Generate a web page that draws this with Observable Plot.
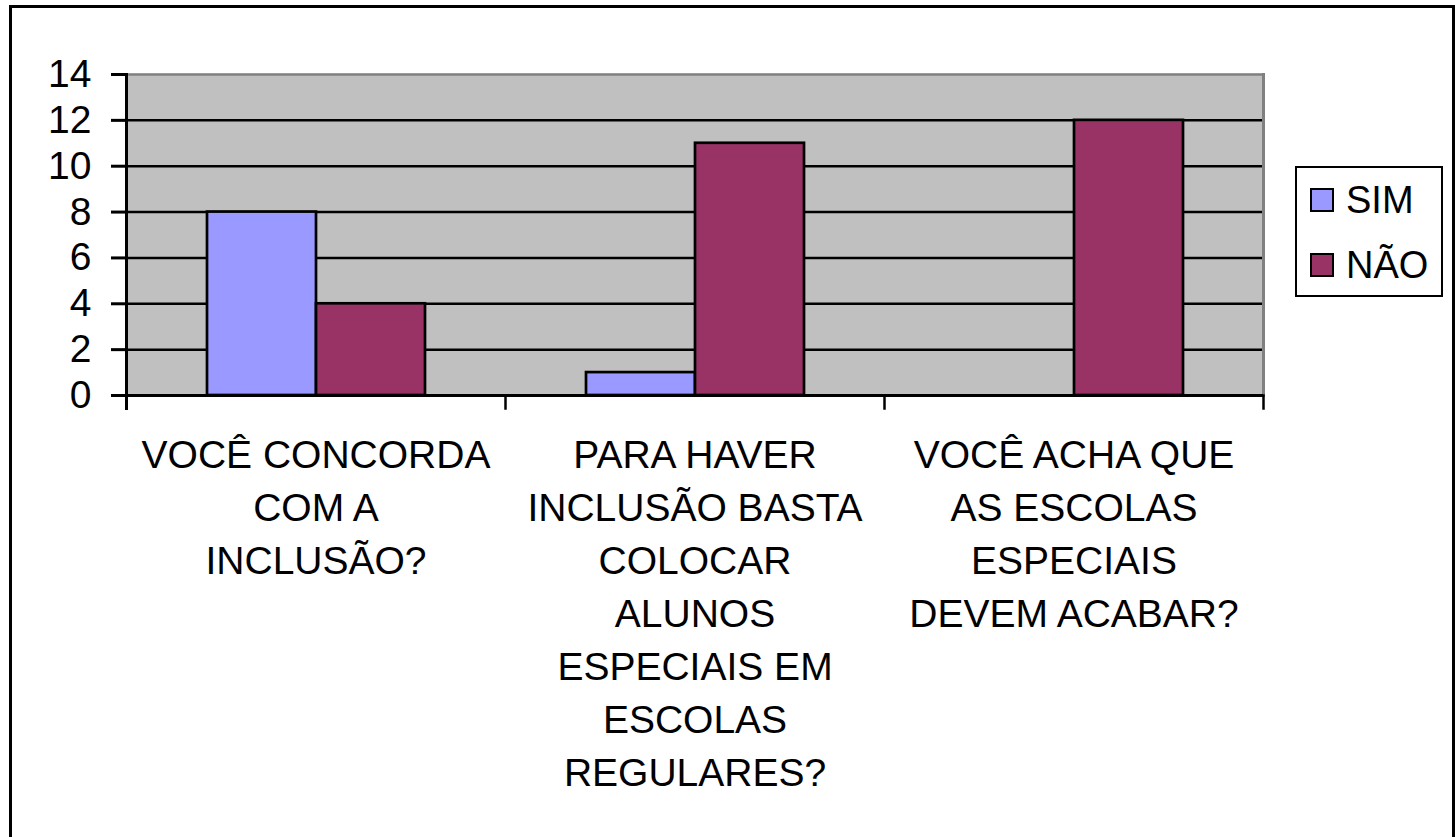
<!DOCTYPE html>
<html>
<head>
<meta charset="utf-8">
<script src="https://cdn.jsdelivr.net/npm/d3@7"></script>
<script src="https://cdn.jsdelivr.net/npm/@observablehq/plot@0.6"></script>
<style>
  html, body { margin: 0; padding: 0; background: #fff; overflow: hidden; width: 1455px; height: 837px; }
  #outer { position: absolute; left: 9px; top: 5px; width: 1440px; height: 900px; border: 3px solid #000; box-sizing: content-box; }
  #chart { position: absolute; left: 0; top: 0; }
  #legend { position: absolute; left: 1295px; top: 166px; width: 144px; height: 127px; border: 2px solid #000; background: #fff;
            font-family: Arial, "Liberation Sans", sans-serif; font-size: 38px; color: #000; }
  .row { position: absolute; left: 13px; display: flex; align-items: center; height: 40px; }
  .sw { width: 20px; height: 20px; border: 2px solid #000; margin-right: 12px; }
</style>
</head>
<body>
<div id="chart"></div>
<div id="outer"></div>
<div id="legend"></div>
<script>
// ---- data ----
const categories = [
  "VOCÊ CONCORDA\nCOM A\nINCLUSÃO?",
  "PARA HAVER\nINCLUSÃO BASTA\nCOLOCAR\nALUNOS\nESPECIAIS EM\nESCOLAS\nREGULARES?",
  "VOCÊ ACHA QUE\nAS ESCOLAS\nESPECIAIS\nDEVEM ACABAR?"
];
const series = ["SIM", "NÃO"];
const simValues = [8, 1, 0];
const naoValues = [4, 11, 12];
const yTicks = [0, 2, 4, 6, 8, 10, 12, 14];
const colors = ["#9999FF", "#993366"];

const data = [];
categories.forEach((c, i) => {
  data.push({category: c, series: "SIM", value: simValues[i]});
  data.push({category: c, series: "NÃO", value: naoValues[i]});
});

const W = 1455, H = 837;
const mTop = 74, mBottom = 442, mLeft = 125, mRight = 192;
const innerH = H - mTop - mBottom;

const chart = Plot.plot({
  width: W,
  height: H,
  marginTop: mTop,
  marginBottom: mBottom,
  marginLeft: mLeft,
  marginRight: mRight,
  style: {fontFamily: "Arial, 'Liberation Sans', sans-serif", fontSize: "39px", color: "#000", background: "transparent", overflow: "visible"},
  fx: {domain: categories, padding: 0, label: null},
  x: {domain: series, paddingInner: 0, paddingOuter: 0.725, axis: null},
  y: {domain: [0, 14], label: null},
  color: {domain: series, range: colors},
  marks: [
    Plot.frame({fill: "#C0C0C0", stroke: "#C0C0C0", strokeWidth: 1.5}),
    Plot.ruleY(yTicks.filter(d => d > 0 && d < 14), {stroke: "#000", strokeWidth: 2.5}),
    Plot.ruleY([14], {stroke: "#808080", strokeWidth: 2.5}),
    Plot.frame({anchor: "right", facetAnchor: "right", stroke: "#808080", strokeWidth: 3}),
    Plot.barY(data, {fx: "category", x: "series", y: "value", fill: "series", stroke: "#000", strokeWidth: 2.7}),
    Plot.ruleY([0], {stroke: "#000", strokeWidth: 3}),
    Plot.frame({anchor: "left", facetAnchor: "left", stroke: "#000", strokeWidth: 3, insetBottom: -13}),
    Plot.frame({anchor: "left", stroke: "#000", strokeWidth: 2.5, insetTop: innerH, insetBottom: -13}),
    Plot.frame({anchor: "right", facetAnchor: "right", stroke: "#000", strokeWidth: 2.5, insetTop: innerH, insetBottom: -13}),
    Plot.axisY({ticks: yTicks, tickSize: 15, tickPadding: 20, strokeWidth: 3, fontSize: 39, label: null}),
    Plot.axisFx({anchor: "bottom", tickSize: 0, tickPadding: 35, fontSize: 39, lineHeight: 1.36, label: null})
  ]
});
document.getElementById("chart").appendChild(chart);

// legend built from the same series/colours
const legend = document.getElementById("legend");
series.forEach((s, i) => {
  const row = document.createElement("div");
  row.className = "row";
  row.style.top = (i === 0 ? 12 : 77) + "px";
  const sw = document.createElement("div");
  sw.className = "sw";
  sw.style.background = colors[i];
  const t = document.createElement("span");
  t.textContent = s;
  row.appendChild(sw);
  row.appendChild(t);
  legend.appendChild(row);
});
</script>
</body>
</html>
